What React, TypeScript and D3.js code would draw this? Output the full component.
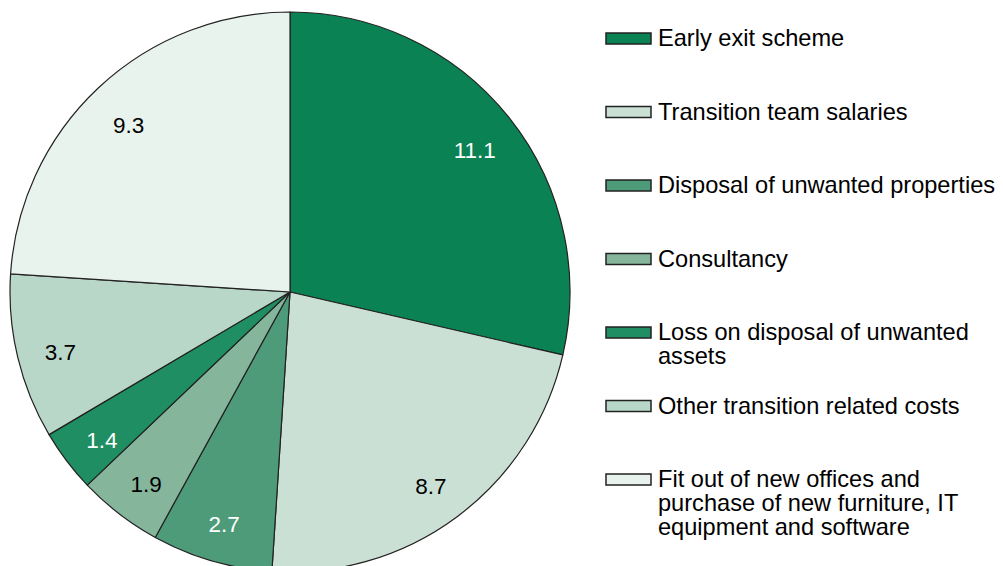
import React from 'react';
import * as d3 from 'd3';

// categories, values and fills (clockwise from 12 o'clock)
const categories = [
  'Early exit scheme',
  'Transition team salaries',
  'Disposal of unwanted properties',
  'Consultancy',
  'Loss on disposal of unwanted assets',
  'Other transition related costs',
  'Fit out of new offices and purchase of new furniture, IT equipment and software',
];
const values = [11.1, 8.7, 2.7, 1.9, 1.4, 3.7, 9.3];
const colors = ['#0b8254', '#cbe0d4', '#4d9b78', '#85b69c', '#1f8e62', '#b9d7c8', '#e9f3ee'];
const labelColors = ['#fff', '#000', '#fff', '#000', '#fff', '#000', '#000'];
// legend text split into lines as in the original
const legendLines = [
  ['Early exit scheme'],
  ['Transition team salaries'],
  ['Disposal of unwanted properties'],
  ['Consultancy'],
  ['Loss on disposal of unwanted', 'assets'],
  ['Other transition related costs'],
  ['Fit out of new offices and', 'purchase of new furniture, IT', 'equipment and software'],
];

const W = 1003;
const H = 566;

const App = () => {
  const cx = 290, cy = 292, r = 280;
  const font = "'Liberation Sans', Arial, sans-serif";

  const pie = d3.pie<number>().sort(null).startAngle(0).endAngle(2 * Math.PI);
  const arcs = pie(values);
  const arc = d3.arc<d3.PieArcDatum<number>>().innerRadius(0).outerRadius(r);
  const labelArc = d3.arc<d3.PieArcDatum<number>>().innerRadius(r * 0.843).outerRadius(r * 0.843);

  // legend rows are evenly spaced by first-line baseline
  const rowY = d3.scaleLinear().domain([0, categories.length - 1]).range([46, 487]);

  return (
    <svg width={W} height={H} style={{ position: 'absolute', left: 0, top: 0 }} fontFamily={font}>
      <rect width={W} height={H} fill="#fff" />
      <g transform={`translate(${cx},${cy})`}>
        {arcs.map((a, i) => (
          <path key={i} d={arc(a) ?? ''} fill={colors[i]} stroke="#222" strokeWidth={1.2} strokeLinejoin="round" />
        ))}
        {arcs.map((a, i) => {
          const [x, y] = labelArc.centroid(a);
          return (
            <text key={i} x={x} y={y + 5} dy="0.36em" textAnchor="middle" fontSize={22.5} fill={labelColors[i]}>
              {values[i]}
            </text>
          );
        })}
      </g>
      <g>
        {categories.map((c, i) => {
          const y = rowY(i);
          return (
            <g key={c}>
              <rect x={606} y={y - 13} width={45} height={11} fill={colors[i]} stroke="#222" strokeWidth={1.5} />
              <text x={658} y={y} fontSize={23.6} fill="#000">
                {legendLines[i].map((l, j) => (
                  <tspan key={j} x={658} dy={j === 0 ? 0 : 24}>{l}</tspan>
                ))}
              </text>
            </g>
          );
        })}
      </g>
    </svg>
  );
};

export default App;
